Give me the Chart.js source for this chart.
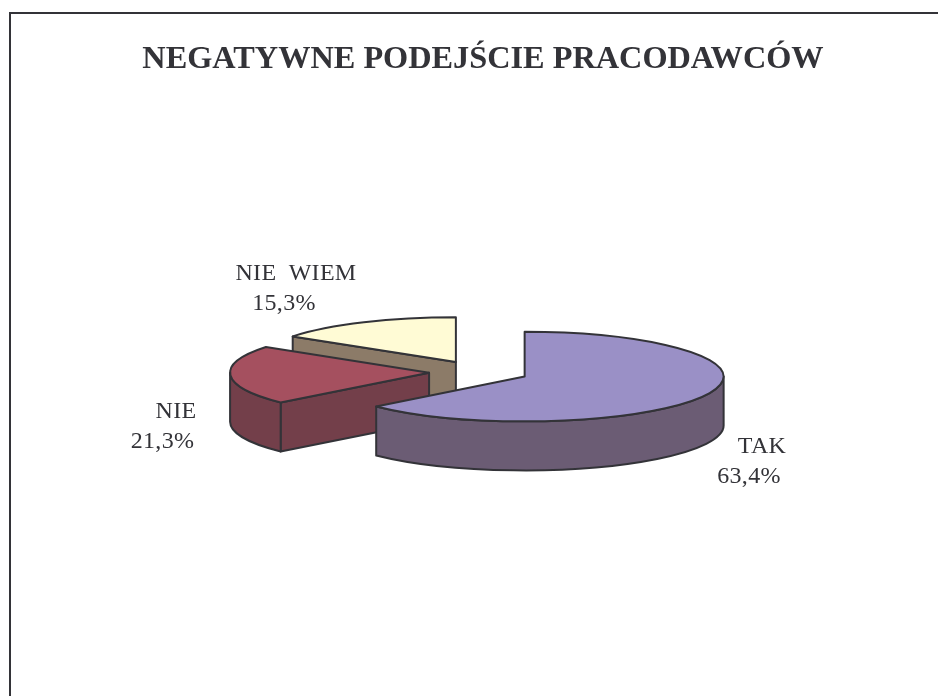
<!DOCTYPE html>
<html><head><meta charset="utf-8">
<style>html,body{margin:0;padding:0;background:#fff}canvas{display:block}</style>
<script src="https://cdn.jsdelivr.net/npm/chart.js@4"></script>
</head><body><canvas id="c" width="938" height="696"></canvas>
<script>
const categories = ['TAK', 'NIE', 'NIE WIEM'];
const values = [63.4, 21.3, 15.3];
const valueLabels = ['63,4%', '21,3%', '15,3%'];
const titleText = 'NEGATYWNE PODEJŚCIE PRACODAWCÓW';
const topColors = ['#9A90C6', '#A5505F', '#FFFBD5'];
const wallColors = ['#6B5C74', '#733F4A', '#8C7B68'];

const INK = '#333338';
const PIE = {cx: 479, cy: 372, squash: 0.225, depth: 49, explode: 50, radius: 199};
const LABEL_POS = [[762, 445, 749, 475], [176, 410, 162.5, 440], [296, 272, 284, 302]];
const drawOrder = [2, 1, 0];

const pie3d = {
  id: 'pie3d',
  beforeDatasetDraw(chart, args) {
    const ctx = chart.ctx, arcs = chart.getDatasetMeta(args.index).data;
    const {squash, depth, explode, cx, cy} = PIE;
    for (const i of drawOrder) {
      const arc = arcs[i];
      const a0 = arc.startAngle, a1 = arc.endAngle, r = arc.outerRadius, mid = (a0 + a1) / 2;
      const ax = cx + Math.cos(mid) * explode, ay = cy + Math.sin(mid) * explode * squash;
      const px = a => ax + Math.cos(a) * r, py = a => ay + Math.sin(a) * r * squash;
      ctx.save();
      ctx.strokeStyle = INK; ctx.lineWidth = 2; ctx.lineJoin = 'round';
      ctx.fillStyle = wallColors[i];
      for (const [a, show] of [[a0, Math.cos(a0) < -1e-6], [a1, Math.cos(a1) > 1e-6]]) {
        if (!show) continue;
        ctx.beginPath();
        ctx.moveTo(ax, ay); ctx.lineTo(px(a), py(a));
        ctx.lineTo(px(a), py(a) + depth); ctx.lineTo(ax, ay + depth);
        ctx.closePath(); ctx.fill(); ctx.stroke();
      }
      const w0 = Math.max(a0, 0), w1 = Math.min(a1, Math.PI);
      if (w1 > w0) {
        ctx.beginPath();
        ctx.ellipse(ax, ay, r, r * squash, 0, w0, w1);
        ctx.ellipse(ax, ay + depth, r, r * squash, 0, w1, w0, true);
        ctx.closePath(); ctx.fill(); ctx.stroke();
      }
      ctx.save();
      ctx.translate(ax - arc.x, ay);
      ctx.scale(1, squash);
      ctx.translate(0, -arc.y);
      arc.draw(ctx);
      ctx.restore();
      ctx.beginPath();
      ctx.moveTo(ax, ay);
      ctx.ellipse(ax, ay, r, r * squash, 0, a0, a1);
      ctx.closePath(); ctx.stroke();
      ctx.restore();
    }
    return false;
  },
  afterDraw(chart) {
    const ctx = chart.ctx;
    ctx.save();
    ctx.strokeStyle = INK; ctx.lineWidth = 2;
    ctx.beginPath(); ctx.moveTo(10, 696); ctx.lineTo(10, 13); ctx.lineTo(938, 13); ctx.stroke();
    ctx.fillStyle = INK; ctx.textAlign = 'center'; ctx.textBaseline = 'alphabetic';
    ctx.font = '24px "Liberation Serif"';
    ctx.wordSpacing = '6px';
    ctx.letterSpacing = '0.3px';
    categories.forEach((c, i) => {
      const p = LABEL_POS[i];
      ctx.fillText(c, p[0], p[1] + 8);
      ctx.fillText(valueLabels[i], p[2], p[3] + 8);
    });
    ctx.restore();
  }
};

new Chart(document.getElementById('c'), {
  type: 'pie',
  data: {labels: categories, datasets: [{data: values, backgroundColor: topColors, borderWidth: 0}]},
  plugins: [pie3d],
  options: {
    responsive: false, animation: false, devicePixelRatio: 1,
    radius: PIE.radius,
    layout: {padding: {left: 28, top: 26}},
    plugins: {
      legend: {display: false}, tooltip: {enabled: false},
      title: {display: true, text: titleText, color: INK, padding: {top: 14, bottom: 0},
        font: {family: '"Liberation Serif"', size: 32.3, weight: 'bold'}}
    }
  }
});
</script></body></html>
